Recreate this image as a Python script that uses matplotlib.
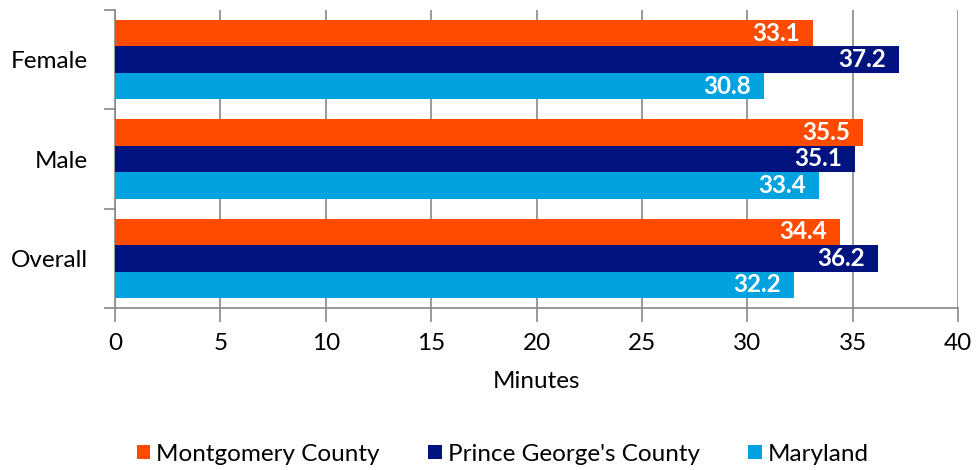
import numpy as np
import matplotlib.pyplot as plt
from matplotlib.ticker import FixedLocator

plt.rcParams['font.family'] = ['Lato', 'DejaVu Sans']

# commute time by group, minutes
groups = ['Overall', 'Male', 'Female']
series = ['Montgomery County', "Prince George's County", 'Maryland']
montgomery = [34.4, 35.5, 33.1]
prince_georges = [36.2, 35.1, 37.2]
maryland = [32.2, 33.4, 30.8]
colors = ['#FF4B00', '#00137F', '#00A3E0']

fig = plt.figure(figsize=(9.76, 4.70), dpi=100)
ax = fig.add_axes([115/976, 1 - 308/470, (958 - 115)/976, 298/470])

y = np.arange(len(groups))
h = 0.8 / 3
values = [montgomery, prince_georges, maryland]
offsets = [h, 0, -h]
for vals, off, col, name in zip(values, offsets, colors, series):
    bars = ax.barh(y + off, vals, height=h, color=col, label=name, zorder=3)
    for b, v in zip(bars, vals):
        ax.text(v - 0.6, b.get_y() + b.get_height()/2, f'{v:.1f}', ha='right', va='center',
                color='white', fontsize=17.5, fontweight='bold', zorder=4)

ax.set_xlim(0, 40)
ax.set_ylim(-0.5, 2.5)
ax.set_xticks(np.arange(0, 41, 5))
ax.set_yticks(y)
ax.set_yticklabels(groups, fontsize=17.5)
ax.yaxis.set_minor_locator(FixedLocator([-0.5, 0.5, 1.5, 2.5]))
ax.tick_params(axis='y', which='major', length=0, pad=19.5)
ax.tick_params(axis='y', which='minor', length=8, color='#888888', width=1.2)
ax.tick_params(axis='x', length=10, color='#888888', width=1.2, labelsize=17.5, pad=8)
ax.grid(axis='x', color='#888888', linewidth=1.2, zorder=0)
for s in ['top', 'right']:
    ax.spines[s].set_visible(False)
for s in ['left', 'bottom']:
    ax.spines[s].set_color('#888888')
    ax.spines[s].set_linewidth(1.2)
ax.set_xlabel('Minutes', fontsize=17.5, labelpad=12)

ax.legend(loc='center', bbox_to_anchor=(0.46, -0.49), ncol=3, frameon=False, fontsize=17.5,
          handlelength=0.55, handleheight=0.55, handletextpad=0.25, columnspacing=2.0)

fig.savefig('out.png', dpi=100)
